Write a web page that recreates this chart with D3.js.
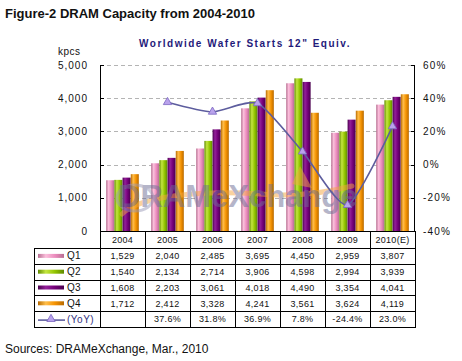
<!DOCTYPE html>
<html><head><meta charset="utf-8">
<script src="https://cdn.jsdelivr.net/npm/d3@7"></script>
<style>
html,body{margin:0;padding:0;background:#fff;}
svg{display:block;font-family:Arial,"Liberation Sans",sans-serif;}
</style></head>
<body>
<svg id="c" width="462" height="361"></svg>
<script>
const categories = ["2004","2005","2006","2007","2008","2009","2010(E)"];
const seriesNames = ["Q1","Q2","Q3","Q4"];
const q1 = [1529,2040,2485,3695,4450,2959,3807];
const q2 = [1540,2134,2714,3906,4598,2994,3939];
const q3 = [1608,2203,3061,4018,4490,3354,4041];
const q4 = [1712,2412,3328,4241,3561,3624,4119];
const yoy = [null,37.6,31.8,36.9,7.8,-24.4,23.0];
const leftTicks = [0,1000,2000,3000,4000,5000];
const rightTicks = [-40,-20,0,20,40,60];

const seriesValues = [q1,q2,q3,q4];
const colors = [
  {edge:"#b86f92", light:"#fbc0dc", mid:"#ec8cbe"},
  {edge:"#5f8a00", light:"#c4e640", mid:"#92c400"},
  {edge:"#4a004e", light:"#94209a", mid:"#730078"},
  {edge:"#b86a00", light:"#ffbe4a", mid:"#f59200"}
];

const svg = d3.select("#c");
const L = 100, R = 414, T = 65, B = 231;

const x = d3.scaleBand().domain(categories).range([L, L + 45*7]).paddingInner(0.267).paddingOuter(0.133);
const xCol = d3.scaleBand().domain(categories).range([L, L + 45*7]);
const xi = d3.scaleBand().domain(seriesNames).range([0, x.bandwidth()]).padding(0.02);
const y = d3.scaleLinear().domain([0,5000]).range([B, T]);
const y2 = d3.scaleLinear().domain([-40,60]).range([B, T]);
const pct = v => (v < 0 ? "-" : "") + d3.format(".1f")(Math.abs(v)) + "%";

const defs = svg.append("defs");
colors.forEach((c,i)=>{
  const g = defs.append("linearGradient").attr("id","g"+i).attr("x1","0").attr("x2","1").attr("y1","0").attr("y2","0");
  g.append("stop").attr("offset","0%").attr("stop-color",c.edge);
  g.append("stop").attr("offset","30%").attr("stop-color",c.light);
  g.append("stop").attr("offset","65%").attr("stop-color",c.mid);
  g.append("stop").attr("offset","100%").attr("stop-color",c.edge);
});

svg.append("text").attr("x",5).attr("y",18).attr("font-size",13).attr("font-weight","bold").attr("fill","#111")
  .text("Figure-2 DRAM Capacity from 2004-2010");
svg.append("text").attr("x",245).attr("y",47).attr("text-anchor","middle").attr("font-size",10).attr("font-weight","bold")
  .attr("letter-spacing",1.5).attr("fill","#1f1a7a").text("Worldwide Wafer Starts 12\"  Equiv.");
svg.append("text").attr("x",58).attr("y",55).attr("font-size",10).attr("letter-spacing",0.5).attr("fill","#111").text("kpcs");

svg.append("g").selectAll("line").data(leftTicks.filter(d=>d>0)).join("line")
  .attr("x1",L).attr("x2",R).attr("y1",d=>Math.round(y(d))+0.5).attr("y2",d=>Math.round(y(d))+0.5)
  .attr("stroke","#b4b4b4").attr("stroke-dasharray","4,3");

const groups = svg.append("g").selectAll("g").data(seriesNames).join("g")
  .attr("fill",(d,i)=>"url(#g"+i+")");
groups.selectAll("rect").data((s,i)=>categories.map((c,j)=>({c, s, v:seriesValues[i][j]}))).join("rect")
  .attr("x",d=>x(d.c)+xi(d.s)).attr("width",xi.bandwidth())
  .attr("y",d=>y(d.v)).attr("height",d=>B - y(d.v));

const wm = svg.append("g").attr("opacity",0.5);
wm.append("path").attr("d","M122,214 C140,196 200,190 260,194 C300,197 330,192 352,186")
  .attr("fill","none").attr("stroke","#f5a640").attr("stroke-width",5).attr("stroke-linecap","round");
wm.append("path").attr("d","M292,184 L300,166 L312,188 Z").attr("fill","#f5a640");
wm.append("ellipse").attr("cx",135).attr("cy",198).attr("rx",18).attr("ry",13).attr("fill","none").attr("stroke","#9a9ab8").attr("stroke-width",3);
wm.append("text").attr("x",118).attr("y",207).attr("font-size",31).attr("font-weight","bold").attr("fill","#6e6e94")
  .text("DRAMeXchange");

svg.append("line").attr("x1",L+0.5).attr("x2",L+0.5).attr("y1",T).attr("y2",327).attr("stroke","#000");
svg.append("line").attr("x1",R+0.5).attr("x2",R+0.5).attr("y1",T).attr("y2",B).attr("stroke","#000");
svg.append("line").attr("x1",L).attr("x2",R+1).attr("y1",B+0.5).attr("y2",B+0.5).attr("stroke","#000");

const lt = svg.append("g");
lt.selectAll("line").data(leftTicks).join("line")
  .attr("x1",L).attr("x2",L+4).attr("y1",d=>Math.round(y(d))+0.5).attr("y2",d=>Math.round(y(d))+0.5).attr("stroke","#000");
lt.selectAll("text").data(leftTicks).join("text")
  .attr("x",88).attr("y",d=>y(d)+3.5).attr("text-anchor","end").attr("font-size",10).attr("letter-spacing",1)
  .attr("fill","#111").text(d=>d3.format(",")(d));
const rt = svg.append("g");
rt.selectAll("line").data(rightTicks).join("line")
  .attr("x1",R-3).attr("x2",R+1).attr("y1",d=>Math.round(y2(d))+0.5).attr("y2",d=>Math.round(y2(d))+0.5).attr("stroke","#000");
rt.selectAll("text").data(rightTicks).join("text")
  .attr("x",423).attr("y",d=>y2(d)+3.5).attr("font-size",10).attr("letter-spacing",1.2)
  .attr("fill","#111").text(d=>d+"%");

const pts = categories.map((c,j)=>({c, v:yoy[j]})).filter(d=>d.v!==null);
const line = d3.line().x(d=>x(d.c)+x.bandwidth()/2).y(d=>y2(d.v)).curve(d3.curveCardinal.tension(0.35));
svg.append("path").attr("d",line(pts)).attr("fill","none").attr("stroke","#5d5d9e").attr("stroke-width",1.6);
const tri = d3.symbol().type(d3.symbolTriangle).size(30);
svg.append("g").selectAll("path").data(pts).join("path")
  .attr("transform",d=>`translate(${x(d.c)+x.bandwidth()/2},${y2(d.v)})`)
  .attr("d",tri).attr("fill","#b9a2ec").attr("stroke","#7a66c0").attr("stroke-width",0.8);

const rowTop = 248, rowH = 15.8, tLeft = 34;
const tbl = svg.append("g").attr("font-size",9).attr("fill","#111").attr("letter-spacing",0.3);
tbl.selectAll("text.h").data(categories).join("text").attr("class","h")
  .attr("x",d=>xCol(d)+xCol.bandwidth()/2).attr("y",243).attr("text-anchor","middle").text(d=>d);
categories.forEach((c,j)=>{
  const xx = Math.round(xCol(c)+xCol.bandwidth())+0.5;
  tbl.append("line").attr("x1",xx).attr("x2",xx).attr("y1",B).attr("y2",327).attr("stroke","#000");
});
tbl.append("line").attr("x1",tLeft+0.5).attr("x2",tLeft+0.5).attr("y1",rowTop).attr("y2",327).attr("stroke","#000");
for(let r=0;r<=5;r++){
  const yy = Math.round(rowTop + r*rowH)+0.5;
  tbl.append("line").attr("x1",tLeft).attr("x2",416).attr("y1",yy).attr("y2",yy).attr("stroke","#000");
}
seriesNames.forEach((s,i)=>{
  const cy = rowTop + i*rowH + rowH/2;
  tbl.append("rect").attr("x",38).attr("y",cy-2).attr("width",26).attr("height",4).attr("fill","url(#g"+i+")");
  tbl.append("text").attr("x",67).attr("y",cy+3.5).attr("font-size",10).text(s);
  tbl.selectAll(null).data(categories).join("text")
    .attr("x",d=>xCol(d)+xCol.bandwidth()/2).attr("y",cy+3.2).attr("text-anchor","middle")
    .text((d,j)=>d3.format(",")(seriesValues[i][j]));
});
{
  const cy = rowTop + 4*rowH + rowH/2;
  tbl.append("line").attr("x1",38).attr("x2",65).attr("y1",cy+1).attr("y2",cy+1).attr("stroke","#5d5d9e").attr("stroke-width",1.6);
  tbl.append("path").attr("transform",`translate(51,${cy})`).attr("d",tri).attr("fill","#b9a2ec").attr("stroke","#7a66c0").attr("stroke-width",0.8);
  tbl.append("text").attr("x",67).attr("y",cy+3.5).attr("font-size",10).attr("fill","#333380").attr("letter-spacing",0.5).text("(YoY)");
  tbl.selectAll(null).data(categories).join("text")
    .attr("x",d=>xCol(d)+xCol.bandwidth()/2).attr("y",cy+3.2).attr("text-anchor","middle")
    .text((d,j)=>yoy[j]===null?"":pct(yoy[j]));
}

svg.append("text").attr("x",5).attr("y",353).attr("font-size",12).attr("fill","#111").text("Sources: DRAMeXchange, Mar., 2010");
</script>
</body></html>
